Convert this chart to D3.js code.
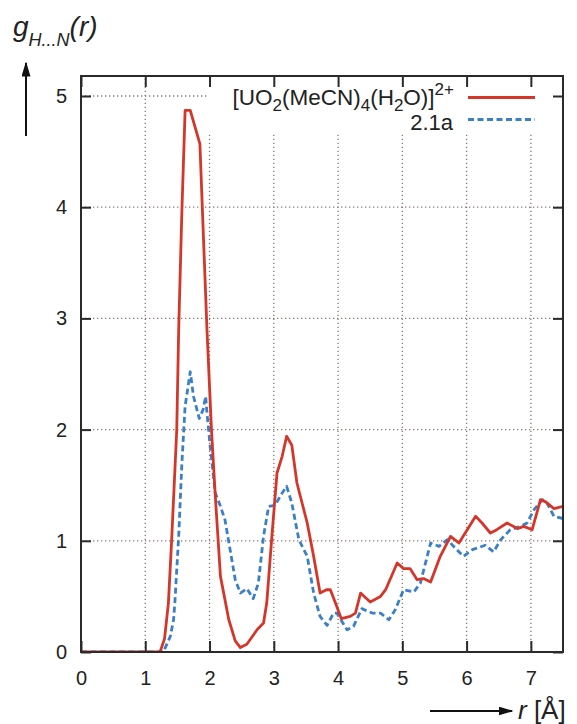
<!DOCTYPE html>
<html><head><meta charset="utf-8">
<script src="https://cdn.jsdelivr.net/npm/d3@7"></script>
<style>body{margin:0;background:#fff}svg{display:block}</style>
</head><body>
<script>
const xTicks=[0,1,2,3,4,5,6,7];
const yTicks=[0,1,2,3,4,5];
const seriesNames=["[UO2(MeCN)4(H2O)]2+","2.1a"];
const rRed=[0,1.23,1.30,1.36,1.41,1.49,1.52,1.57,1.62,1.70,1.85,1.96,2.03,2.09,2.17,2.30,2.40,2.48,2.58,2.74,2.84,2.89,2.97,3.05,3.13,3.20,3.28,3.36,3.44,3.52,3.62,3.72,3.82,3.88,3.98,4.05,4.19,4.27,4.35,4.50,4.66,4.74,4.92,5.02,5.12,5.23,5.33,5.44,5.59,5.75,5.88,6.01,6.14,6.24,6.37,6.47,6.63,6.79,6.89,7.02,7.15,7.23,7.36,7.5];
const gRed=[0,0,0.12,0.44,1.0,2.0,2.9,3.97,4.87,4.87,4.57,2.9,2.0,1.4,0.68,0.29,0.1,0.04,0.07,0.2,0.26,0.44,1.04,1.61,1.76,1.94,1.86,1.52,1.34,1.16,0.86,0.53,0.56,0.56,0.41,0.3,0.32,0.35,0.53,0.45,0.5,0.56,0.80,0.75,0.75,0.65,0.66,0.63,0.86,1.04,0.98,1.1,1.22,1.16,1.07,1.1,1.16,1.11,1.13,1.1,1.37,1.35,1.29,1.31];
const rBlue=[0,1.28,1.39,1.44,1.46,1.52,1.57,1.62,1.70,1.75,1.84,1.90,1.94,1.96,2.01,2.09,2.17,2.24,2.32,2.40,2.48,2.58,2.68,2.76,2.84,2.92,3.02,3.13,3.20,3.28,3.39,3.52,3.62,3.72,3.83,3.93,3.98,4.14,4.24,4.37,4.53,4.66,4.79,4.89,5.02,5.18,5.28,5.44,5.57,5.70,5.83,5.95,6.09,6.29,6.42,6.53,6.68,6.84,6.94,7.05,7.18,7.25,7.36,7.5];
const gBlue=[0,0,0.14,0.29,0.44,1.04,1.70,2.21,2.52,2.30,2.10,2.18,2.30,2.15,1.85,1.43,1.31,1.19,0.92,0.65,0.53,0.57,0.48,0.62,1.04,1.31,1.32,1.43,1.49,1.34,1.01,0.86,0.53,0.32,0.24,0.35,0.35,0.2,0.23,0.39,0.35,0.35,0.29,0.38,0.56,0.54,0.62,0.98,0.95,1.01,0.93,0.86,0.92,0.96,0.9,1.01,1.1,1.13,1.16,1.28,1.37,1.34,1.22,1.2];

const W=577,H=724;
const L=81,R=563,T=76,B=652;
const red="#d4372a", blue="#3a80c6", gridC="#8a7770", axC="#2a2a2a";
const svg=d3.select("body").append("svg").attr("width",W).attr("height",H)
  .style("font-family","'Liberation Sans',Arial,Helvetica,sans-serif");
const x=d3.scaleLinear().domain([0,7.5]).range([L,R]);
const y=d3.scaleLinear().domain([0,(B-T)/111.2]).range([B,T]);

// grid
const g=svg.append("g");
g.selectAll(".vg").data(xTicks.filter(d=>d>0)).join("line")
 .attr("x1",d=>x(d)).attr("x2",d=>x(d)).attr("y1",B).attr("y2",T)
 .attr("stroke",gridC).attr("stroke-width",1.3).attr("stroke-dasharray","1.3,2.7");
g.selectAll(".hg").data(yTicks.filter(d=>d>0)).join("line")
 .attr("x1",L).attr("x2",R).attr("y1",d=>y(d)).attr("y2",d=>y(d))
 .attr("stroke",gridC).attr("stroke-width",1.3).attr("stroke-dasharray","1.3,2.7");

// legend opaque box
svg.append("rect").attr("x",208).attr("y",T+1).attr("width",R-209).attr("height",56).attr("fill","#fff");

// clip
svg.append("clipPath").attr("id","cp").append("rect").attr("x",L).attr("y",T).attr("width",R-L).attr("height",B-T);
const line=d3.line().x(d=>x(d[0])).y(d=>y(d[1]));
const redData=rRed.map((r,i)=>[r,gRed[i]]);
const blueData=rBlue.map((r,i)=>[r,gBlue[i]]);
svg.append("path").attr("clip-path","url(#cp)").attr("d",line(blueData)).attr("fill","none")
 .attr("stroke",blue).attr("stroke-width",2.8).attr("stroke-dasharray","6,3.5").attr("stroke-linejoin","round");
svg.append("path").attr("clip-path","url(#cp)").attr("d",line(redData)).attr("fill","none")
 .attr("stroke",red).attr("stroke-width",2.8).attr("stroke-linejoin","round");

// axes with inner ticks
const xb=d3.axisBottom(x).tickValues(xTicks).tickSize(-11).tickPadding(19).tickFormat(d3.format("d"));
const xt=d3.axisTop(x).tickValues(xTicks).tickSize(-11).tickFormat("");
const yl=d3.axisLeft(y).tickValues(yTicks).tickSize(-10).tickPadding(14).tickFormat(d3.format("d"));
const yr=d3.axisRight(y).tickValues(yTicks).tickSize(-10).tickFormat("");
function style(sel){sel.select(".domain").remove();sel.selectAll("line").attr("stroke",axC).attr("stroke-width",2);
  sel.selectAll("text").attr("fill","#222").style("font-size","20px");}
svg.append("g").attr("transform",`translate(0,${B})`).call(xb).call(style);
svg.append("g").attr("transform",`translate(0,${T})`).call(xt).call(style);
svg.append("g").attr("transform",`translate(${L},0)`).call(yl).call(style);
svg.append("g").attr("transform",`translate(${R},0)`).call(yr).call(style);
svg.append("rect").attr("x",L).attr("y",T).attr("width",R-L).attr("height",B-T)
 .attr("fill","none").attr("stroke",axC).attr("stroke-width",2);

// legend
const lt=svg.append("text").attr("x",454).attr("y",105).attr("text-anchor","end").attr("fill","#222").style("font-size","22.5px");
lt.append("tspan").text("[UO");
lt.append("tspan").attr("dy",6).style("font-size","17px").text("2");
lt.append("tspan").attr("dy",-6).text("(MeCN)");
lt.append("tspan").attr("dy",6).style("font-size","17px").text("4");
lt.append("tspan").attr("dy",-6).text("(H");
lt.append("tspan").attr("dy",6).style("font-size","17px").text("2");
lt.append("tspan").attr("dy",-6).text("O)]");
lt.append("tspan").attr("dy",-10).style("font-size","17px").text("2+");
svg.append("text").attr("x",453).attr("y",130).attr("text-anchor","end").attr("fill","#222").style("font-size","22px").text(seriesNames[1]);
svg.append("line").attr("x1",468).attr("x2",535).attr("y1",97.5).attr("y2",97.5).attr("stroke",red).attr("stroke-width",2.8);
svg.append("line").attr("x1",468).attr("x2",535).attr("y1",119.5).attr("y2",119.5).attr("stroke",blue).attr("stroke-width",2.8).attr("stroke-dasharray","6,3.5");

// y label
const yt=svg.append("text").attr("x",13).attr("y",36).attr("fill","#222").style("font-size","28px").style("font-style","italic");
yt.append("tspan").text("g");
yt.append("tspan").attr("dy",10).style("font-size","18px").text("H...N");
yt.append("tspan").attr("dy",-10).text("(r)");
// arrows
svg.append("defs").append("marker").attr("id","ah").attr("viewBox","0 0 10 10").attr("refX",9).attr("refY",5)
 .attr("preserveAspectRatio","none")
 .attr("markerWidth",15).attr("markerHeight",9).attr("markerUnits","userSpaceOnUse").attr("orient","auto")
 .append("path").attr("d","M0,0L10,5L0,10z").attr("fill","#111");
svg.append("line").attr("x1",26).attr("x2",26).attr("y1",136).attr("y2",63).attr("stroke","#111").attr("stroke-width",2).attr("marker-end","url(#ah)");
svg.append("line").attr("x1",430).attr("x2",512).attr("y1",711).attr("y2",711).attr("stroke","#111").attr("stroke-width",2).attr("marker-end","url(#ah)");
const xl=svg.append("text").attr("x",518).attr("y",719).attr("fill","#222").style("font-size","26px");
xl.append("tspan").style("font-style","italic").text("r");
xl.append("tspan").text(" [Å]");
</script>
</body></html>
